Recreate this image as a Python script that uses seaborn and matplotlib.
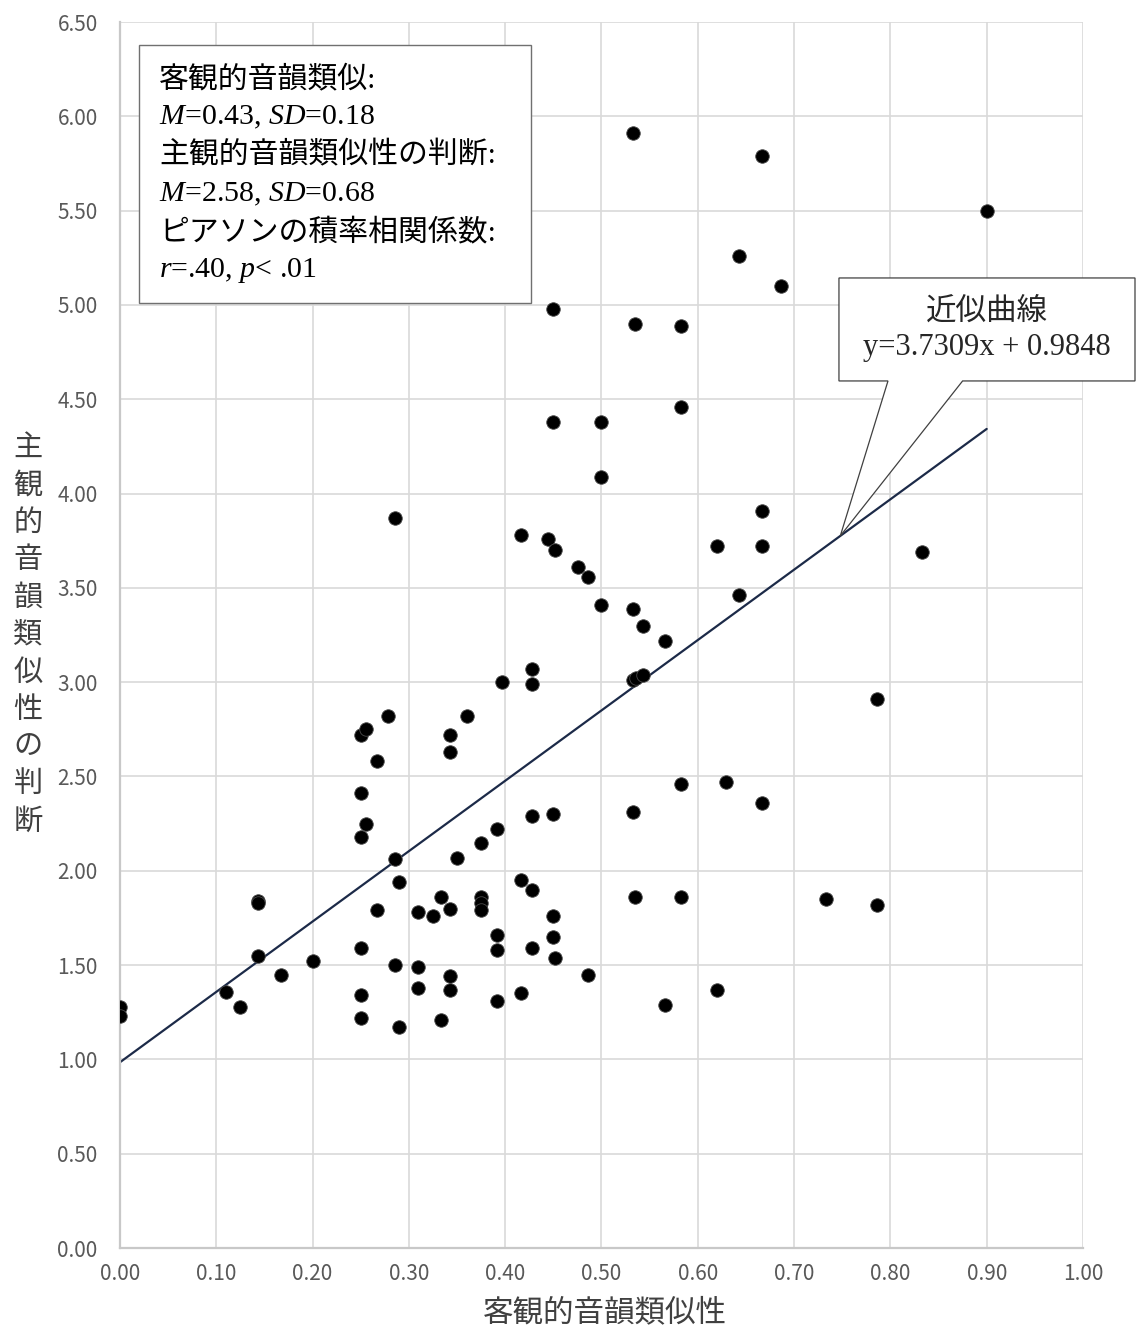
import matplotlib
matplotlib.use("Agg")
import matplotlib.pyplot as plt
import seaborn as sns
import pandas as pd
import numpy as np
from matplotlib.patches import Polygon, Rectangle

# objective rhyme similarity (x) and subjective judgement (y)
x_obj = [0.000, 0.000, 0.110, 0.125, 0.143, 0.143, 0.143, 0.167, 0.200, 0.250,
         0.255, 0.250, 0.250, 0.255, 0.250, 0.250, 0.250, 0.267, 0.278, 0.286,
         0.286, 0.286, 0.290, 0.290, 0.267, 0.310, 0.310, 0.310, 0.325, 0.333,
         0.333, 0.343, 0.343, 0.343, 0.343, 0.343, 0.350, 0.360, 0.375, 0.375,
         0.375, 0.375, 0.392, 0.392, 0.392, 0.392, 0.397, 0.416, 0.416, 0.416,
         0.428, 0.428, 0.428, 0.428, 0.428, 0.444, 0.450, 0.450, 0.452, 0.450,
         0.450, 0.450, 0.452, 0.476, 0.486, 0.486, 0.500, 0.500, 0.500, 0.533,
         0.535, 0.533, 0.533, 0.536, 0.543, 0.543, 0.533, 0.535, 0.566, 0.566,
         0.583, 0.583, 0.583, 0.583, 0.620, 0.620, 0.629, 0.643, 0.643, 0.667,
         0.667, 0.667, 0.667, 0.686, 0.733, 0.786, 0.786, 0.833, 0.900]
y_subj = [1.28, 1.23, 1.36, 1.28, 1.84, 1.83, 1.55, 1.45, 1.52, 2.72,
          2.75, 2.41, 2.18, 2.25, 1.59, 1.34, 1.22, 2.58, 2.82, 3.87,
          2.06, 1.50, 1.94, 1.17, 1.79, 1.78, 1.49, 1.38, 1.76, 1.86,
          1.21, 2.72, 2.63, 1.80, 1.44, 1.37, 2.07, 2.82, 2.15, 1.86,
          1.83, 1.79, 2.22, 1.66, 1.58, 1.31, 3.00, 3.78, 1.95, 1.35,
          3.07, 2.99, 2.29, 1.90, 1.59, 3.76, 4.98, 4.38, 3.70, 2.30,
          1.76, 1.65, 1.54, 3.61, 3.56, 1.45, 4.38, 4.09, 3.41, 5.91,
          4.90, 3.39, 3.01, 3.02, 3.04, 3.30, 2.31, 1.86, 3.22, 1.29,
          4.89, 4.46, 2.46, 1.86, 3.72, 1.37, 2.47, 5.26, 3.46, 5.79,
          3.91, 3.72, 2.36, 5.10, 1.85, 2.91, 1.82, 3.69, 5.50]

slope = 3.7309
intercept = 0.9848
fit_x = [0.0, 0.90]

x_ticks = np.arange(0, 1.01, 0.1)
y_ticks = np.arange(0, 6.51, 0.5)

stats_lines = ["客観的音韻類似:",
               "$M$=0.43, $SD$=0.18",
               "主観的音韻類似性の判断:",
               "$M$=2.58, $SD$=0.68",
               "ピアソンの積率相関係数:",
               "$r$=.40, $p$< .01"]

df = pd.DataFrame({"x": x_obj, "y": y_subj})

sns.set_style("white")
plt.rcParams["font.family"] = ["Noto Sans CJK JP", "DejaVu Sans"]
plt.rcParams["mathtext.fontset"] = "custom"
plt.rcParams["mathtext.rm"] = "Liberation Serif"
plt.rcParams["mathtext.it"] = "Liberation Serif:italic"

fig = plt.figure(figsize=(11.37, 13.26), dpi=100)
ax = fig.add_axes([0.1055, 0.0588, 0.847, 0.9246])

serif = ["Liberation Serif", "Noto Sans CJK JP"]
grey_txt = "#595959"

# regression line (under the points)
fit_y = [slope * v + intercept for v in fit_x]
ax.plot(fit_x, fit_y, color="#1c2a48", lw=1.6, zorder=2)

sns.scatterplot(data=df, x="x", y="y", ax=ax, s=95, color="black",
                edgecolor="#4a4a4a", linewidth=0.6, zorder=3, legend=False)

ax.set_xlim(0, 1.0)
ax.set_ylim(0, 6.5)
ax.set_xticks(x_ticks)
ax.set_yticks(y_ticks)
ax.set_xticklabels([f"{v:.2f}" for v in x_ticks])
ax.set_yticklabels([f"{v:.2f}" for v in y_ticks])
ax.tick_params(length=0, labelsize=15, colors=grey_txt)
ax.tick_params(axis="x", pad=11)
ax.tick_params(axis="y", pad=16)
ax.grid(True, color="#d9d9d9", lw=1.2)
ax.set_axisbelow(True)
for s in ["top", "right"]:
    ax.spines[s].set_visible(False)
for s in ["left", "bottom"]:
    ax.spines[s].set_color("#c8c8c8")
    ax.spines[s].set_linewidth(1.6)

ax.set_xlabel("客観的音韻類似性", fontsize=22, color="#404040", va="center")
ax.xaxis.set_label_coords(0.504, -0.053)
ax.set_ylabel("\n".join("主観的音韻類似性の判断"), fontsize=21, color="#404040",
              rotation=0, linespacing=1.32, va="center", ha="center")
ax.yaxis.set_label_coords(-0.0955, 0.5)

# statistics box
ax.add_patch(Rectangle((0.0197, 5.011), 0.4071, 1.367, fc="white", ec="#707070",
                       lw=1.0, zorder=5))
line_step = 38.4 / 188.6
for i, line in enumerate(stats_lines):
    ax.text(0.0405, 6.198 - i * line_step, line, family=serif, fontsize=21.5,
            color="black", va="center", ha="left", zorder=6)

# callout for the fitted line
tip_x = 0.748
tip_y = slope * tip_x + intercept
bx0, bx1, by0, by1 = 0.7466, 1.054, 4.597, 5.143
callout = Polygon([(bx0, by1), (bx1, by1), (bx1, by0), (0.875, by0),
                   (tip_x, tip_y), (0.7975, by0), (bx0, by0)],
                  closed=True, fc="white", ec="#404040", lw=0.9,
                  clip_on=False, zorder=6)
ax.add_patch(callout)
cx = (bx0 + bx1) / 2
ax.text(cx, 4.963, "近似曲線", family=serif, fontsize=22,
        ha="center", va="center", zorder=7, clip_on=False)
ax.text(cx, 4.772, f"y={slope}x + {intercept}", family=serif, fontsize=22,
        ha="center", va="center", zorder=7, clip_on=False)

fig.savefig("out.png", dpi=100)
